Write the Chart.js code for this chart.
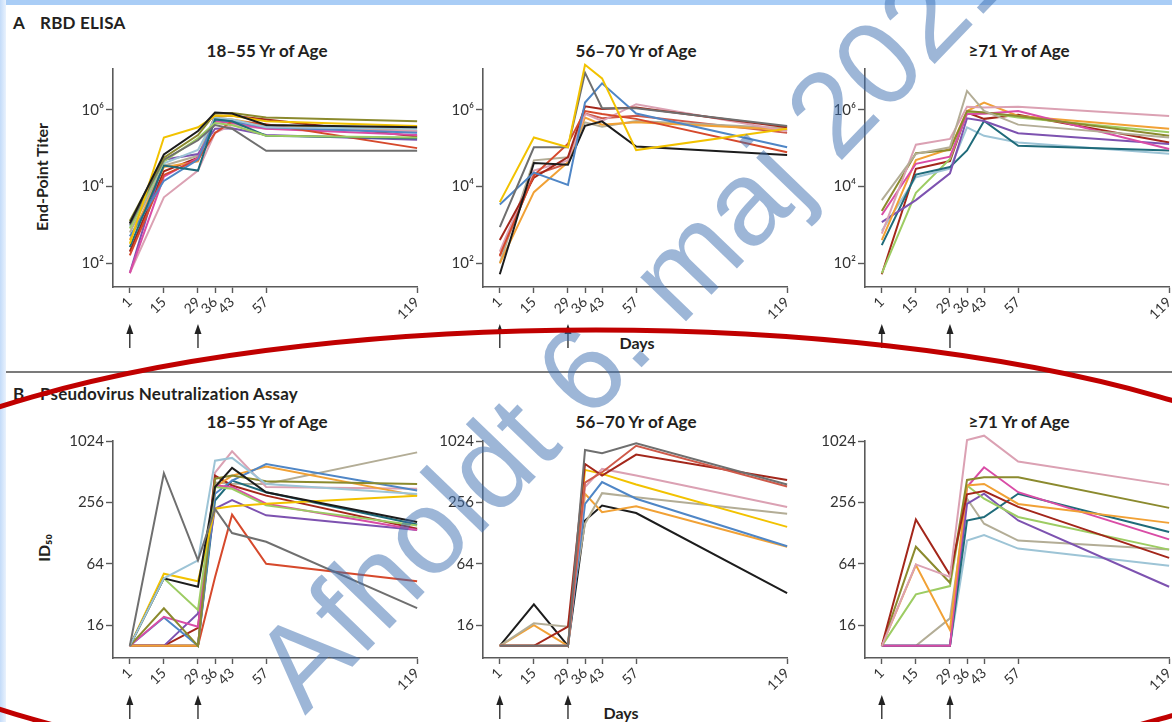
<!DOCTYPE html>
<html>
<head>
<meta charset="utf-8">
<script src="https://cdn.jsdelivr.net/npm/chart.js@4.4.1/dist/chart.umd.min.js"></script>
<style>
    html, body { margin: 0; padding: 0; }
    body { width: 1172px; height: 722px; position: relative; overflow: hidden; background: #fff; font-family: Lato, "Open Sans", sans-serif; color: #231f20; }
    .frame-top { position: absolute; left: 0; top: 0; width: 1172px; height: 5px; background: #a9cdf6; }
    .frame-left { position: absolute; left: 0; top: 0; width: 6px; height: 722px; background: linear-gradient(to right, #c3dbf9, #e9f2fd); }
    .rule { position: absolute; left: 6px; top: 371px; width: 1166px; height: 1.5px; background: #7b7b7b; }
    .sec { position: absolute; left: 13px; transform: translateY(-50%); font-weight: bold; font-size: 17px; white-space: nowrap; }
    .sec span { position: absolute; left: 27px; top: 0; letter-spacing: 0.2px; }
    .title, .days { position: absolute; transform: translate(-50%, -50%); font-weight: bold; font-size: 17px; white-space: nowrap; }
    .days { font-size: 16px; }
    .ytitle { position: absolute; transform: translate(-50%, -50%) rotate(-90deg); font-weight: bold; font-size: 16px; white-space: nowrap; }
    canvas.panel { position: absolute; }
    #overlay { position: absolute; left: 0; top: 0; pointer-events: none; }
</style>
</head>
<body>
<div class="frame-top"></div>
<div class="frame-left"></div>
<div class="rule"></div>

<div class="sec" style="top:22px">A<span>RBD ELISA</span></div>
<div class="sec" style="top:393px">B<span>Pseudovirus Neutralization Assay</span></div>

<div class="title" style="left:267px; top:50px">18–55 Yr of Age</div>
<div class="title" style="left:636px; top:50px">56–70 Yr of Age</div>
<div class="title" style="left:1019px; top:50px">≥71 Yr of Age</div>
<div class="title" style="left:267px; top:421px">18–55 Yr of Age</div>
<div class="title" style="left:636px; top:421px">56–70 Yr of Age</div>
<div class="title" style="left:1019px; top:421px">≥71 Yr of Age</div>

<div class="ytitle" style="left:41px; top:177px">End-Point Titer</div>
<div class="ytitle" style="left:43px; top:548px">ID₅₀</div>
<div class="days" style="left:637px; top:342px">Days</div>
<div class="days" style="left:621px; top:712px">Days</div>

<canvas class="panel" id="elisa1" width="377" height="299" style="left:53px; top:58px"></canvas>
<canvas class="panel" id="elisa2" width="377" height="299" style="left:423px; top:58px"></canvas>
<canvas class="panel" id="elisa3" width="377" height="299" style="left:805px; top:58px"></canvas>
<canvas class="panel" id="neut1" width="377" height="298" style="left:53px; top:430px"></canvas>
<canvas class="panel" id="neut2" width="377" height="298" style="left:423px; top:430px"></canvas>
<canvas class="panel" id="neut3" width="377" height="298" style="left:805px; top:430px"></canvas>

<canvas id="overlay" width="1172" height="722"></canvas>

<script>
const days = [1, 15, 29, 36, 43, 57, 119];
const doseDays = [1, 29];
const dayRange = [-5.9, 119];

const elisaTicks = [1e2, 1e4, 1e6];
const elisaTickLabels = ["10²", "10⁴", "10⁶"];
const elisaRange = [23.8, 1.16e7];

const neutTicks = [16, 64, 256, 1024];
const neutTickLabels = ["16", "64", "256", "1024"];
const neutRange = [7.6, 1024];

// RBD ELISA end-point titers, one row per participant
const elisa18to55 = [
    [1100, 68000, 280000, 850000, 800000, 400000, 350000],
    [320, 190000, 350000, 700000, 700000, 500000, 380000],
    [1250, 56000, 220000, 800000, 830000, 630000, 500000],
    [1000, 50000, 160000, 400000, 320000, 85000, 85000],
    [800, 45000, 180000, 450000, 400000, 210000, 190000],
    [260, 35000, 26000, 560000, 500000, 210000, 180000],
    [900, 40000, 90000, 630000, 560000, 350000, 320000],
    [500, 14000, 50000, 560000, 500000, 350000, 250000],
    [160, 20000, 50000, 250000, 500000, 420000, 100000],
    [55, 18000, 56000, 500000, 450000, 320000, 220000],
    [55, 5200, 26000, 250000, 400000, 320000, 280000],
    [55, 50000, 70000, 320000, 330000, 220000, 165000],
    [400, 32000, 45000, 630000, 560000, 400000, 280000],
    [630, 35000, 63000, 600000, 520000, 380000, 330000],
    [200, 25000, 56000, 700000, 700000, 560000, 200000]
];
const elisa56to70 = [
    [3900, 190000, 105000, 15000000, 6600000, 89000, 320000],
    [870, 105000, 105000, 9300000, 1100000, 1100000, 380000],
    [3400, 23000, 11000, 1550000, 4900000, 800000, 105000],
    [51, 41000, 37000, 380000, 500000, 110000, 66000],
    [160, 19500, 130000, 930000, 780000, 580000, 78000],
    [400, 17000, 58000, 1230000, 1050000, 1150000, 350000],
    [200, 26000, 48000, 780000, 510000, 1400000, 280000],
    [98, 7100, 43000, 630000, 410000, 470000, 300000],
    [100, 48000, 58000, 470000, 360000, 510000, 330000],
    [150, 20000, 40000, 800000, 600000, 700000, 250000]
];
const elisa71plus = [
    [4400, 71000, 105000, 3100000, 930000, 410000, 190000],
    [590, 123000, 174000, 1200000, 1150000, 1200000, 690000],
    [2300, 74000, 89000, 930000, 850000, 690000, 210000],
    [1800, 39000, 60000, 780000, 790000, 930000, 95000],
    [400, 49000, 95000, 930000, 1550000, 690000, 320000],
    [1170, 4400, 22000, 600000, 510000, 245000, 129000],
    [295, 20500, 32000, 87000, 510000, 115000, 87000],
    [700, 17400, 29000, 350000, 210000, 141000, 71000],
    [54, 6800, 52000, 850000, 850000, 630000, 260000],
    [51, 29000, 46000, 850000, 580000, 740000, 141000]
];

// Pseudovirus neutralization ID50, one row per participant
const neut18to55 = [
    [10, 494, 69, 221, 128, 105, 23.5],
    [10, 46, 69, 657, 699, 388, 310],
    [10, 46, 38, 362, 557, 322, 164],
    [10, 51, 43, 222, 234, 248, 298],
    [10, 46, 22.5, 362, 348, 239, 152],
    [10, 23.4, 10, 437, 469, 413, 388],
    [10, 19.3, 15.4, 375, 362, 248, 137],
    [10, 19, 10, 311, 419, 609, 335],
    [10, 10, 10, 362, 469, 575, 298],
    [10, 10, 20.8, 222, 270, 191, 137],
    [10, 10, 10, 47, 194, 64, 43],
    [10, 10, 15, 469, 375, 298, 141],
    [10, 10, 10, 267, 419, 322, 155],
    [10, 10, 10, 500, 810, 362, 348],
    [10, 10, 10, 400, 390, 388, 792]
];
const neut56to70 = [
    [10, 10, 10, 836, 776, 970, 383],
    [10, 10, 10, 400, 506, 920, 367],
    [10, 10, 15.4, 609, 469, 754, 425],
    [10, 10, 10, 362, 545, 469, 231],
    [10, 10, 10, 533, 487, 383, 147],
    [10, 10, 10, 247, 405, 278, 95],
    [10, 16.7, 15.4, 158, 315, 288, 198],
    [10, 16, 10, 311, 205, 234, 94],
    [10, 25.6, 10, 170, 238, 201, 33]
];
const neut71plus = [
    [10, 63, 47.5, 1046, 1155, 643, 380],
    [10, 174, 49.5, 307, 331, 231, 73],
    [10, 94, 41.6, 425, 452, 452, 226],
    [10, 62, 14.3, 375, 388, 247, 161],
    [10, 32, 38.6, 375, 278, 184, 88],
    [10, 10, 10, 362, 565, 322, 111],
    [10, 10, 10, 170, 184, 311, 131],
    [10, 10, 10, 247, 311, 170, 38],
    [10, 10, 18.6, 278, 158, 108, 88],
    [10, 10, 10, 108, 122, 90, 61]
];

const C = {
    black: "#1c1c1c", gray: "#6f6f6f", yellow: "#f2c200", olive: "#8b8a2e",
    green: "#9dcc63", teal: "#1f6b7a", lightBlue: "#9dc4d6", blue: "#4f86c6",
    red: "#d6492c", darkRed: "#a3261a", magenta: "#d94ca6", pink: "#dba1b3",
    purple: "#7d52b0", orange: "#f1a135", tan: "#b3ad96", salmon: "#cf5a4a"
};

const colors18to55 = [C.black, C.yellow, C.olive, C.gray, C.green, C.teal, C.lightBlue, C.blue,
    C.red, C.magenta, C.pink, C.purple, C.orange, C.tan, C.darkRed];
const colors56to70 = [C.yellow, C.gray, C.blue, C.black, C.red, C.darkRed, C.pink, C.orange, C.tan, C.salmon];
const colors71plus = [C.tan, C.pink, C.olive, C.magenta, C.orange, C.purple, C.teal, C.lightBlue, C.green, C.darkRed];

const neutColors18to55 = [C.gray, C.lightBlue, C.black, C.yellow, C.green, C.olive, C.magenta, C.blue,
    C.orange, C.purple, C.red, C.darkRed, C.teal, C.pink, C.tan];
const neutColors56to70 = [C.gray, C.salmon, C.darkRed, C.pink, C.yellow, C.blue, C.tan, C.orange, C.black];
const neutColors71plus = [C.pink, C.darkRed, C.olive, C.orange, C.green, C.magenta, C.teal, C.purple, C.tan, C.lightBlue];

const axisColor = "#5a5a5a";
const tickFont = { family: "Lato, 'Open Sans', sans-serif", size: 15 };

// small up-arrows under the axis marking the two vaccinations
const doseArrows = {
    id: "doseArrows",
    afterDraw(chart) {
        const ctx = chart.ctx;
        const base = chart.chartArea.bottom;
        ctx.save();
        ctx.strokeStyle = "#222";
        ctx.fillStyle = "#222";
        ctx.lineWidth = 1.3;
        doseDays.forEach((d) => {
            const x = chart.scales.x.getPixelForValue(d);
            ctx.beginPath();
            ctx.moveTo(x, base + 44);
            ctx.lineTo(x, base + 61);
            ctx.stroke();
            ctx.beginPath();
            ctx.moveTo(x, base + 37);
            ctx.lineTo(x - 3.5, base + 47);
            ctx.lineTo(x + 3.5, base + 47);
            ctx.closePath();
            ctx.fill();
        });
        ctx.restore();
    }
};

function renderPanel(canvasId, series, colors, yTicks, yTickLabels, yRange) {
    const ctx = document.getElementById(canvasId).getContext("2d");

    new Chart(ctx, {
        type: "line",
        data: {
            datasets: series.map((values, i) => ({
                data: values.map((v, j) => ({ x: days[j], y: v })),
                borderColor: colors[i],
                borderWidth: 2,
                pointRadius: 0,
                tension: 0,
                clip: false
            }))
        },
        options: {
            responsive: false,
            animation: false,
            events: [],
            layout: { padding: { top: 10, right: 10, bottom: 30, left: 0 } },
            plugins: {
                legend: { display: false },
                tooltip: { enabled: false }
            },
            scales: {
                x: {
                    type: "linear",
                    min: dayRange[0],
                    max: dayRange[1],
                    afterBuildTicks: (axis) => { axis.ticks = days.map((d) => ({ value: d })); },
                    afterFit: (axis) => { axis.height = 40; },
                    ticks: {
                        autoSkip: false,
                        minRotation: 45,
                        maxRotation: 45,
                        padding: 1,
                        color: "#333",
                        font: { family: tickFont.family, size: 14 },
                        callback: (v) => String(v)
                    },
                    grid: { drawOnChartArea: false, tickLength: 6, tickColor: axisColor, tickWidth: 1.4 },
                    border: { color: axisColor, width: 1.6 }
                },
                y: {
                    type: "logarithmic",
                    min: yRange[0],
                    max: yRange[1],
                    afterBuildTicks: (axis) => { axis.ticks = yTicks.map((v) => ({ value: v })); },
                    afterFit: (axis) => { axis.width = 60; },
                    ticks: {
                        padding: 2,
                        color: "#333",
                        font: tickFont,
                        callback: (v, i) => yTickLabels[i]
                    },
                    grid: { drawOnChartArea: false, tickLength: 7, tickColor: axisColor, tickWidth: 1.4 },
                    border: { color: axisColor, width: 1.6 }
                }
            }
        },
        plugins: [doseArrows]
    });
}

function drawOverlay() {
    const ctx = document.getElementById("overlay").getContext("2d");

    ctx.save();
    ctx.translate(305, 716);
    ctx.rotate(-46 * Math.PI / 180);
    ctx.font = "120px 'Liberation Sans', Arial, sans-serif";
    ctx.fillStyle = "rgba(60, 110, 175, 0.5)";
    ctx.fillText("Afholdt 6. maj 2021", 0, 0);
    ctx.restore();

    ctx.beginPath();
    ctx.ellipse(596, 558, 797, 228, 0, 0, Math.PI * 2);
    ctx.strokeStyle = "#c00000";
    ctx.lineWidth = 5;
    ctx.stroke();
}

renderPanel("elisa1", elisa18to55, colors18to55, elisaTicks, elisaTickLabels, elisaRange);
renderPanel("elisa2", elisa56to70, colors56to70, elisaTicks, elisaTickLabels, elisaRange);
renderPanel("elisa3", elisa71plus, colors71plus, elisaTicks, elisaTickLabels, elisaRange);
renderPanel("neut1", neut18to55, neutColors18to55, neutTicks, neutTickLabels, neutRange);
renderPanel("neut2", neut56to70, neutColors56to70, neutTicks, neutTickLabels, neutRange);
renderPanel("neut3", neut71plus, neutColors71plus, neutTicks, neutTickLabels, neutRange);
drawOverlay();
</script>
</body>
</html>
